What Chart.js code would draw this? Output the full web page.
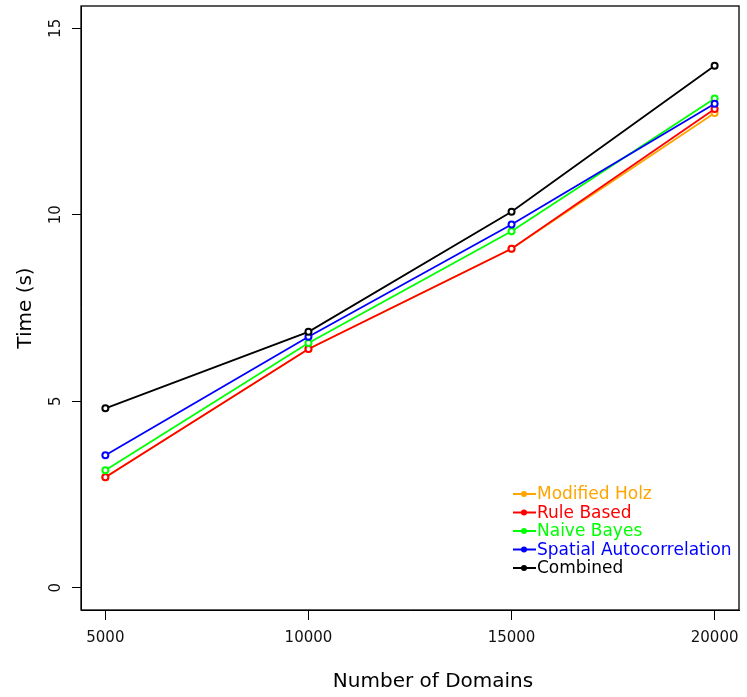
<!DOCTYPE html>
<html>
<head>
<meta charset="utf-8">
<script src="https://cdn.jsdelivr.net/npm/chart.js@4"></script>
<style>
  body { margin: 0; background: #fff; }
  #wrap { width: 747px; height: 697px; }
</style>
</head>
<body>
<div id="wrap"><canvas id="timeChart" width="747" height="697"></canvas></div>
<script>
// Data
const domains = [5000, 10000, 15000, 20000];
const xTicks = [5000, 10000, 15000, 20000];
const yTicks = [0, 5, 10, 15];

const seriesNames = ['Modified Holz', 'Rule Based', 'Naive Bayes', 'Spatial Autocorrelation', 'Combined'];
const seriesColors = ['#FFA500', '#FF0000', '#00FF00', '#0000FF', '#000000'];

const holzTimes = [2.96, 6.40, 9.09, 12.73];
const ruleTimes = [2.96, 6.40, 9.09, 12.84];
const bayesTimes = [3.15, 6.56, 9.56, 13.12];
const spatialTimes = [3.55, 6.73, 9.74, 12.98];
const combinedTimes = [4.81, 6.86, 10.08, 14.00];

const allTimes = [holzTimes, ruleTimes, bayesTimes, spatialTimes, combinedTimes];

const FONT = '"DejaVu Sans", sans-serif';

// box around plot region, x title and legend (R style)
const rPlotExtras = {
  id: 'rPlotExtras',
  afterDraw(chart) {
    const { ctx, chartArea: a } = chart;
    ctx.save();
    ctx.strokeStyle = '#000';
    ctx.lineWidth = 1.3;
    ctx.strokeRect(a.left, a.top, a.right - a.left, a.bottom - a.top);

    // x axis title
    ctx.fillStyle = '#000';
    ctx.font = '20px ' + FONT;
    ctx.textAlign = 'center';
    ctx.textBaseline = 'middle';
    ctx.fillText('Number of Domains', (a.left + a.right) / 2 + 23, 682);

    // legend, bottom right
    const lx = a.left + 432;
    const ly = a.top + 488;
    ctx.font = '17px ' + FONT;
    ctx.textAlign = 'left';
    chart.data.datasets.forEach((ds, i) => {
      const y = ly + i * 18.5;
      ctx.strokeStyle = ds.borderColor;
      ctx.fillStyle = ds.borderColor;
      ctx.lineWidth = 2;
      ctx.beginPath();
      ctx.moveTo(lx, y);
      ctx.lineTo(lx + 23, y);
      ctx.stroke();
      ctx.beginPath();
      ctx.arc(lx + 11, y, 3, 0, Math.PI * 2);
      ctx.fill();
      ctx.fillText(ds.label, lx + 24, y + 1);
    });
    ctx.restore();
  }
};

new Chart(document.getElementById('timeChart'), {
  type: 'line',
  data: {
    datasets: seriesNames.map((name, i) => ({
      label: name,
      data: domains.map((d, j) => ({ x: d, y: allTimes[i][j] })),
      borderColor: seriesColors[i],
      backgroundColor: '#fff',
      pointBorderColor: seriesColors[i],
      pointBackgroundColor: '#fff',
      pointRadius: 3,
      pointBorderWidth: 2,
      borderWidth: 1.8,
      tension: 0,
      order: seriesNames.length - 1 - i
    }))
  },
  options: {
    responsive: false,
    animation: false,
    layout: { padding: { top: 5, right: 8, left: 0, bottom: 0 } },
    plugins: { legend: { display: false }, tooltip: { enabled: false } },
    scales: {
      x: {
        type: 'linear',
        min: 4400,
        max: 20600,
        afterBuildTicks: s => { s.ticks = xTicks.map(v => ({ value: v })); },
        afterFit: s => { s.height = 87; s.paddingLeft = 0; s.paddingRight = 0; },
        grid: { display: true, drawOnChartArea: false, drawTicks: true, tickLength: 10, color: '#000' },
        border: { display: true, color: '#000' },
        ticks: {
          color: '#111',
          font: { family: FONT, size: 15 },
          padding: 9,
          maxRotation: 0,
          callback: v => String(v)
        },
        title: { display: false }
      },
      y: {
        min: -0.6,
        max: 15.6,
        afterBuildTicks: s => { s.ticks = yTicks.map(v => ({ value: v })); },
        afterFit: s => { s.width = 81; s.paddingTop = 0; s.paddingBottom = 0; },
        grid: { display: true, drawOnChartArea: false, drawTicks: true, tickLength: 9, color: '#000' },
        border: { display: true, color: '#000' },
        ticks: {
          color: '#111',
          font: { family: FONT, size: 15 },
          padding: 6,
          minRotation: 90,
          maxRotation: 90,
          crossAlign: 'center',
          callback: v => String(v)
        },
        title: {
          display: true,
          text: 'Time (s)',
          color: '#000',
          font: { family: FONT, size: 20 },
          padding: { top: 14, bottom: 0 }
        }
      }
    }
  },
  plugins: [rPlotExtras]
});
</script>
</body>
</html>
